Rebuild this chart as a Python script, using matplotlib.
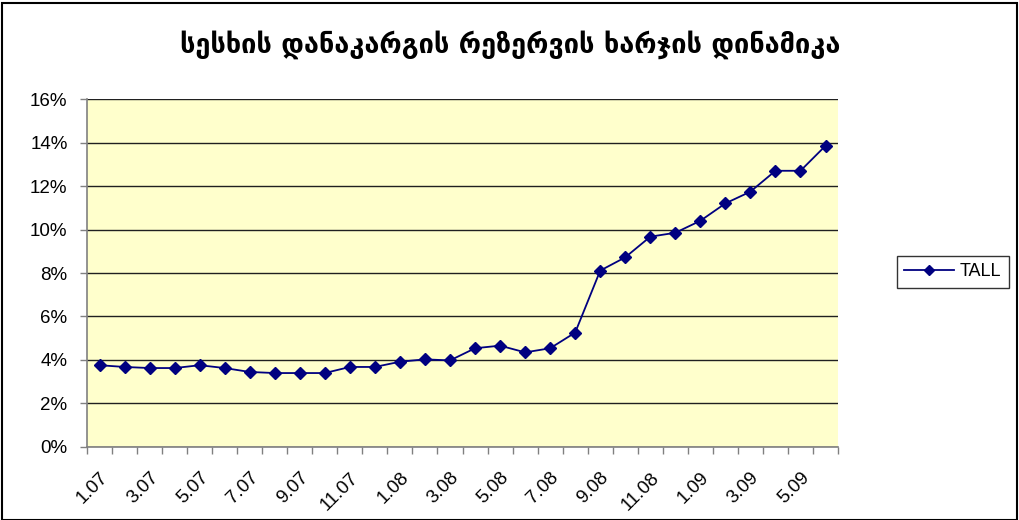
import matplotlib

matplotlib.use("Agg")
import matplotlib.pyplot as plt
from matplotlib.patches import Rectangle
from matplotlib.ticker import FixedLocator, PercentFormatter

TITLE = "სესხის დანაკარგის რეზერვის ხარჯის დინამიკა"
SERIES_NAME = "TALL"

# months 1.07 .. 6.09, values in %
months = [
    "1.07", "2.07", "3.07", "4.07", "5.07", "6.07", "7.07", "8.07", "9.07", "10.07", "11.07", "12.07",
    "1.08", "2.08", "3.08", "4.08", "5.08", "6.08", "7.08", "8.08", "9.08", "10.08", "11.08", "12.08",
    "1.09", "2.09", "3.09", "4.09", "5.09", "6.09",
]
tall = [
    3.76, 3.68, 3.63, 3.63, 3.76, 3.63, 3.45, 3.40, 3.40, 3.40, 3.68, 3.68,
    3.92, 4.03, 3.98, 4.54, 4.66, 4.35, 4.54, 5.26, 8.11, 8.72, 9.67, 9.85,
    10.40, 11.20, 11.74, 12.70, 12.70, 13.85,
]

plt.rcParams["font.family"] = ["Liberation Sans", "DejaVu Sans"]

fig = plt.figure(figsize=(10.2, 5.2), dpi=100)
fig.patch.set_facecolor("white")
ax = fig.add_axes([0.0853, 0.1404, 0.7363, 0.6692])
ax.set_facecolor("#FFFFCC")

x = list(range(len(months)))
ax.plot(x, tall, color="#000080", linewidth=1.3, marker="D", markersize=6,
        markerfacecolor="#000080", markeredgecolor="#000080", label=SERIES_NAME, zorder=3)

ax.set_xlim(-0.5, len(months) - 0.5)
ax.set_ylim(0, 16)

# y axis
ax.yaxis.set_major_locator(FixedLocator(range(0, 17, 2)))
ax.yaxis.set_major_formatter(PercentFormatter(decimals=0))
ax.grid(axis="y", color="#202020", linewidth=1.0, zorder=1)
ax.tick_params(axis="y", direction="out", length=5, width=1, color="#808080",
               labelsize=13.5, pad=9)

# x axis: tick marks on category edges, labels every second month
ax.set_xticks([i for i in x if i % 2 == 0])
ax.set_xticklabels([months[i] for i in x if i % 2 == 0], rotation=45, ha="right",
                   va="top", rotation_mode="anchor", fontsize=13.5)
ax.set_xticks([i - 0.5 for i in range(len(months) + 1)], minor=True)
ax.tick_params(axis="x", which="major", length=0, pad=16)
ax.tick_params(axis="x", which="minor", direction="out", length=5, width=1, color="#808080")

for side in ("top", "right"):
    ax.spines[side].set_visible(False)
for side in ("left", "bottom"):
    ax.spines[side].set_color("#808080")
    ax.spines[side].set_linewidth(1.2)

fig.text(0.5, 0.915, TITLE, ha="center", va="center", fontsize=19.5, fontweight="bold",
         family="DejaVu Sans")

leg = ax.legend(loc="center left", bbox_to_anchor=(1.066, 0.503), frameon=True,
                fancybox=False, fontsize=13, handlelength=2.8, borderpad=0.4,
                handletextpad=0.3, markerscale=0.85)
leg.get_frame().set_edgecolor("black")
leg.get_frame().set_linewidth(1.0)

fig.add_artist(Rectangle((0.002, 0.0), 0.995, 0.995, transform=fig.transFigure,
                         fill=False, edgecolor="black", linewidth=1.5))

fig.savefig("out.png", dpi=100, facecolor="white")
